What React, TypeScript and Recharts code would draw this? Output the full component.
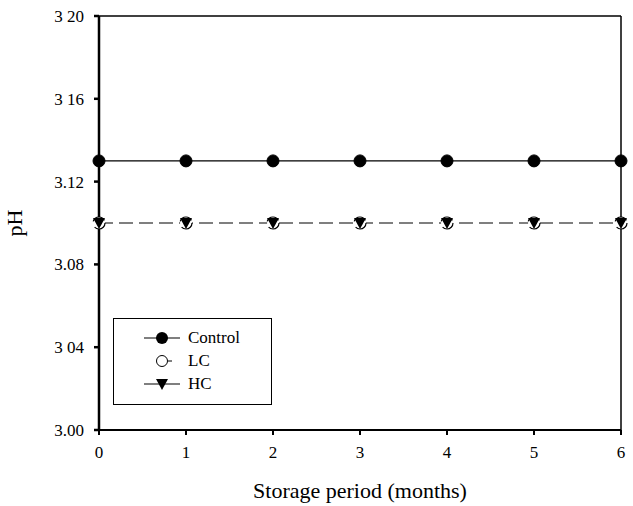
import { LineChart, Line, XAxis, YAxis, ReferenceLine } from "recharts";

const months = [0, 1, 2, 3, 4, 5, 6];
const control = [3.13, 3.13, 3.13, 3.13, 3.13, 3.13, 3.13];
const lc = [3.1, 3.1, 3.1, 3.1, 3.1, 3.1, 3.1];
const hc = [3.1, 3.1, 3.1, 3.1, 3.1, 3.1, 3.1];
const yTicks = [3.0, 3.04, 3.08, 3.12, 3.16, 3.2];
const yTickLabels = ["3.00", "3 04", "3.08", "3.12", "3 16", "3 20"];
const seriesNames = ["Control", "LC", "HC"];

const data = months.map((m, i) => ({ month: m, control: control[i], lc: lc[i], hc: hc[i] }));

const FONT = "'Liberation Serif', 'Times New Roman', serif";

function Triangle(props: any) {
  const { cx, cy } = props;
  if (cx == null || cy == null) return null;
  return <path d={`M${cx - 6},${cy - 5} L${cx + 6},${cy - 5} L${cx},${cy + 6} Z`} fill="#000" />;
}

function LegendBox() {
  const row = { display: "flex", alignItems: "center", height: 23 } as const;
  return (
    <div
      style={{
        position: "absolute",
        left: 113,
        top: 318,
        border: "1px solid #000",
        width: 159,
        height: 87,
        boxSizing: "border-box",
        background: "#fff",
        padding: "7px 0 0 28px",
        fontFamily: FONT,
        fontSize: 17,
        color: "#000",
      }}
    >
      <div style={row}>
        <svg width={40} height={16}>
          <line x1={2} y1={8} x2={38} y2={8} stroke="#000" strokeWidth={1.2} />
          <circle cx={20} cy={8} r={6} fill="#000" />
        </svg>
        <span style={{ marginLeft: 6 }}>{seriesNames[0]}</span>
      </div>
      <div style={row}>
        <svg width={40} height={16}>
          <line x1={26} y1={8} x2={30} y2={8} stroke="#000" strokeWidth={1} />
          <circle cx={20} cy={8} r={5.5} fill="#fff" stroke="#000" strokeWidth={1} />
        </svg>
        <span style={{ marginLeft: 6 }}>{seriesNames[1]}</span>
      </div>
      <div style={row}>
        <svg width={40} height={16}>
          <line x1={2} y1={8} x2={38} y2={8} stroke="#000" strokeWidth={1.2} />
          <path d="M14,3 L26,3 L20,14 Z" fill="#000" />
        </svg>
        <span style={{ marginLeft: 6 }}>{seriesNames[2]}</span>
      </div>
    </div>
  );
}

export default function App() {
  return (
    <div style={{ position: "absolute", left: 0, top: 0, width: 633, height: 506, background: "#fff" }}>
      <LineChart width={633} height={506} data={data} margin={{ top: 16, right: 12, bottom: 0, left: 0 }}>
        <XAxis
          dataKey="month"
          type="number"
          domain={[0, 6]}
          ticks={months}
          height={76}
          tickSize={5}
          tickMargin={11}
          stroke="#000"
          strokeWidth={2}
          tick={{ fontFamily: FONT, fontSize: 17, fill: "#000" }}
          label={{ value: "Storage period (months)", position: "insideBottom", offset: 8, style: { fontFamily: FONT, fontSize: 22, fill: "#000" } }}
        />
        <YAxis
          type="number"
          domain={[3.0, 3.2]}
          ticks={yTicks}
          width={99}
          tickSize={5}
          tickMargin={10}
          stroke="#000"
          strokeWidth={2.5}
          tickFormatter={(v: number) => yTickLabels[yTicks.indexOf(v)] ?? String(v)}
          tick={{ fontFamily: FONT, fontSize: 17, fill: "#000" }}
          label={{ value: "pH", angle: -90, position: "insideLeft", offset: 14, style: { fontFamily: FONT, fontSize: 22, fill: "#000", textAnchor: "middle" } }}
        />
        <ReferenceLine y={3.2} stroke="#000" strokeWidth={1.5} />
        <ReferenceLine x={6} stroke="#000" strokeWidth={1.5} />
        <Line
          dataKey="control"
          name={seriesNames[0]}
          stroke="#000"
          strokeWidth={1.2}
          dot={{ r: 6, fill: "#000", stroke: "#000", strokeWidth: 1 }}
          isAnimationActive={false}
        />
        <Line
          dataKey="lc"
          name={seriesNames[1]}
          stroke="#000"
          strokeWidth={1.2}
          strokeDasharray="14 6"
          dot={{ r: 6, fill: "#fff", stroke: "#000", strokeWidth: 1.2 }}
          isAnimationActive={false}
        />
        <Line
          dataKey="hc"
          name={seriesNames[2]}
          stroke="none"
          dot={<Triangle />}
          isAnimationActive={false}
        />
      </LineChart>
      <LegendBox />
    </div>
  );
}
